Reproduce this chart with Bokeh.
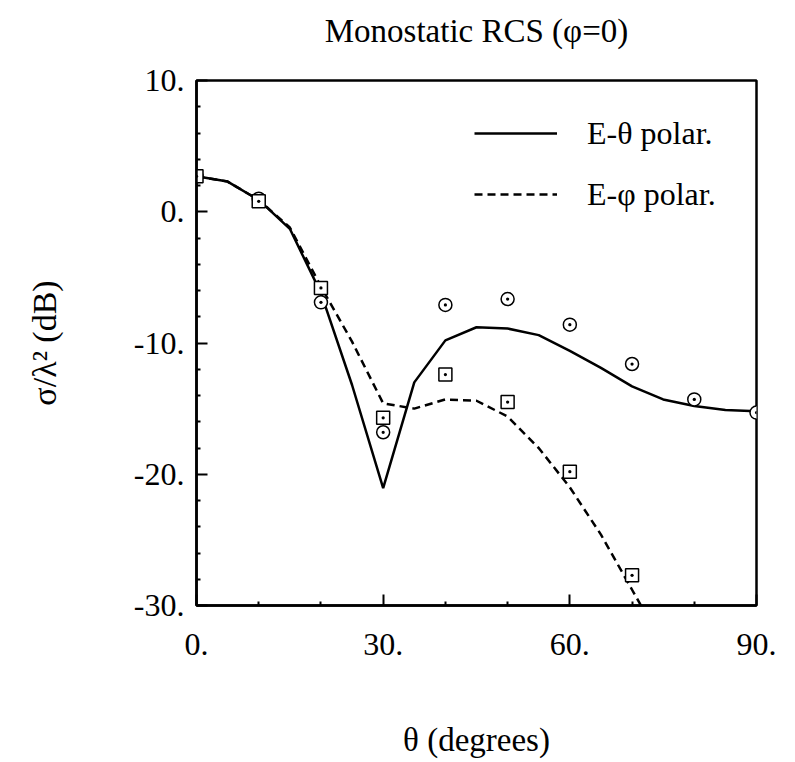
from bokeh.plotting import figure
from bokeh.models import FixedTicker, Legend, LegendItem, Range1d, Title
from bokeh.embed import file_html
from bokeh.resources import INLINE

# ---- data ----
theta_curve = [0, 5, 10, 15, 20, 25, 30, 35, 40, 45, 50, 55, 60, 65, 70, 75, 80, 85, 90]
e_theta_curve = [2.7, 2.3, 0.9, -1.3, -6.2, -13.2, -21.05, -13.0, -9.8, -8.8, -8.9, -9.4,
                 -10.6, -11.9, -13.3, -14.3, -14.8, -15.1, -15.2]

theta_curve_phi = [0, 5, 10, 15, 20, 25, 30, 35, 40, 45, 50, 55, 60, 65, 70, 75]
e_phi_curve = [2.7, 2.3, 0.9, -1.2, -5.7, -9.9, -14.6, -15.0, -14.3, -14.4, -15.6, -18.0,
               -21.0, -24.6, -28.8, -33.0]

theta_meas_theta = [0, 10, 20, 30, 40, 50, 60, 70, 80, 90]
e_theta_meas = [2.7, 1.0, -6.9, -16.8, -7.1, -6.65, -8.6, -11.6, -14.3, -15.3]

theta_meas_phi = [0, 10, 20, 30, 40, 50, 60, 70]
e_phi_meas = [2.7, 0.8, -5.8, -15.7, -12.4, -14.5, -19.8, -27.7]

x_ticks = [0, 30, 60, 90]
x_tick_labels = ["0.", "30.", "60.", "90."]
x_minor_ticks = [10, 20, 40, 50, 70, 80]
y_ticks = [-30, -20, -10, 0, 10]
y_tick_labels = ["-30.", "-20.", "-10.", "0.", "10."]
y_minor_ticks = [-28, -26, -24, -22, -18, -16, -14, -12, -8, -6, -4, -2, 2, 4, 6, 8]

title_text = "Monostatic RCS (\u03c6=0)"
x_label = "\u03b8 (degrees)"
y_label = "\u03c3/\u03bb\u00b2 (dB)"
legend_labels = ["E-\u03b8 polar.", "E-\u03c6 polar."]

FONT = "Liberation Serif"

p = figure(frame_width=560, frame_height=525,
           x_range=Range1d(0, 90), y_range=Range1d(-30, 10),
           output_backend="svg", toolbar_location=None,
           min_border_left=196, min_border_right=25,
           min_border_top=80, min_border_bottom=155)

p.background_fill_color = "white"
p.border_fill_color = "white"
p.grid.visible = False
p.outline_line_color = "black"
p.outline_line_width = 2.5

# spacer between frame and title, then the title itself
p.add_layout(Title(text=" ", text_font_size="10px", standoff=19), "above")
p.add_layout(Title(text=title_text, text_font=FONT, text_font_size="33px",
                   text_font_style="normal", text_color="black", align="center",
                   standoff=0), "above")

for ax in (p.xaxis[0], p.yaxis[0]):
    ax.axis_line_width = 2.5
    ax.major_tick_in = 11
    ax.major_tick_out = 0
    ax.minor_tick_in = 4
    ax.minor_tick_out = 0
    ax.major_tick_line_width = 2
    ax.minor_tick_line_width = 2
    ax.major_label_text_font = FONT
    ax.major_label_text_font_size = "32px"
    ax.major_label_text_color = "black"
    ax.axis_label_text_font = FONT
    ax.axis_label_text_font_style = "normal"
    ax.axis_label_text_color = "black"

p.xaxis.ticker = FixedTicker(ticks=x_ticks, minor_ticks=x_minor_ticks)
p.xaxis.major_label_overrides = {t: l for t, l in zip(x_ticks, x_tick_labels)}
p.xaxis.major_label_standoff = 28
p.xaxis.axis_label = x_label
p.xaxis.axis_label_text_font_size = "33px"
p.xaxis.axis_label_standoff = 64

p.yaxis.ticker = FixedTicker(ticks=y_ticks, minor_ticks=y_minor_ticks)
p.yaxis.major_label_overrides = {t: l for t, l in zip(y_ticks, y_tick_labels)}
p.yaxis.major_label_standoff = 12
p.yaxis.axis_label = y_label
p.yaxis.axis_label_text_font_size = "34px"
p.yaxis.axis_label_standoff = 68

r_theta = p.line(theta_curve, e_theta_curve, line_color="black", line_width=2.5)
r_phi = p.line(theta_curve_phi, e_phi_curve, line_color="black", line_width=2.5,
               line_dash="8 5")

p.scatter(theta_meas_theta, e_theta_meas, marker="circle_dot", size=13,
          line_color="black", line_width=1.5, fill_color="white")
p.scatter(theta_meas_phi, e_phi_meas, marker="square_dot", size=13,
          line_color="black", line_width=1.5, fill_color="white")

legend = Legend(items=[LegendItem(label=legend_labels[0], renderers=[r_theta]),
                       LegendItem(label=legend_labels[1], renderers=[r_phi])],
                location=(278, 391), border_line_color=None, background_fill_alpha=0,
                padding=0, margin=0, glyph_width=83, glyph_height=40,
                label_standoff=30, spacing=21, label_height=40,
                label_text_font=FONT, label_text_font_size="32px",
                label_text_color="black")
p.add_layout(legend)

open("out.html", "w").write(file_html(p, INLINE))
